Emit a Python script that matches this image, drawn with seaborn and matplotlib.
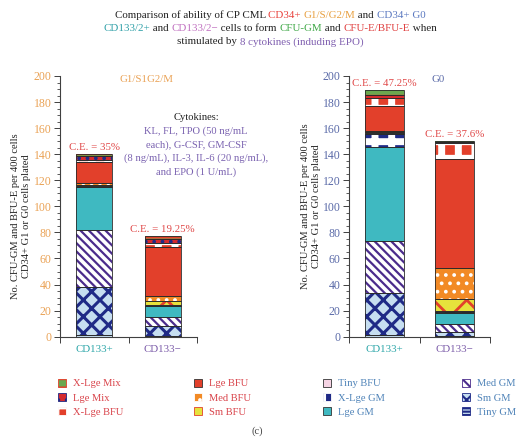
import matplotlib
matplotlib.use("Agg")
import matplotlib.pyplot as plt
import numpy as np
import pandas as pd
import seaborn as sns
from matplotlib.patches import Patch
from matplotlib.ticker import MultipleLocator, FixedLocator

# ---------------- data ----------------
segments = ["Tiny GM", "Sm GM", "Med GM", "Lge GM", "X-Lge GM", "Tiny BFU",
            "Sm BFU", "Med BFU", "Lge BFU", "X-Lge BFU", "Lge Mix", "X-Lge Mix"]
categories = ["CD133+", "CD133\u2212"]
g1_cd133pos = [1.0, 37.5, 43.5, 32.5, 0.5, 0.5, 0.7, 1.5, 16.0, 1.5, 3.8, 1.0]
g1_cd133neg = [0.5, 7.7, 7.1, 8.2, 0.3, 0.3, 3.3, 3.6, 37.8, 3.0, 3.5, 1.7]
g0_cd133pos = [1.5, 31.7, 40.5, 71.6, 10.2, 0.5, 0.8, 1.2, 19.0, 6.0, 2.5, 3.5]
g0_cd133neg = [0.5, 3.0, 6.5, 8.0, 1.2, 0.8, 8.6, 23.9, 83.5, 12.3, 1.2, 0.9]
ce_g1 = ["C.E. = 35%", "C.E. = 19.25%"]
ce_g0 = ["C.E. = 47.25%", "C.E. = 37.6%"]
yticks = [0, 20, 40, 60, 80, 100, 120, 140, 160, 180, 200]
legend_cols = [["X-Lge Mix", "Lge Mix", "X-Lge BFU"],
               ["Lge BFU", "Med BFU", "Sm BFU"],
               ["Tiny BFU", "X-Lge GM", "Lge GM"],
               ["Med GM", "Sm GM", "Tiny GM"]]

# ---------------- styles ----------------
NAVY = "#1f2a86"
RED = "#e2402b"
styles = {
    "Tiny GM":   dict(fc="#c6def0", hc=NAVY, hatch="-----", hlw=1.2),
    "Sm GM":     dict(fc="#c6def0", hc=NAVY, hatch="xx", hlw=2.2),
    "Med GM":    dict(fc="white", hc="#4b2c8c", hatch="\\\\\\\\", hlw=1.6),
    "Lge GM":    dict(fc="#3fb9c1", hc="#3fb9c1", hatch=None, hlw=1.0),
    "X-Lge GM":  dict(fc=NAVY, hc="white", hatch="+", hlw=5.0),
    "Tiny BFU":  dict(fc="#f6d4e4", hc="#f6d4e4", hatch=None, hlw=1.0),
    "Sm BFU":    dict(fc="#e6e23c", hc=RED, hatch="x", hlw=2.0),
    "Med BFU":   dict(fc="#f28a25", hc="white", hatch="..", hlw=1.5),
    "Lge BFU":   dict(fc=RED, hc=RED, hatch=None, hlw=1.0),
    "X-Lge BFU": dict(fc=RED, hc="white", hatch="+", hlw=5.0),
    "Lge Mix":   dict(fc="#d42a2e", hc=NAVY, hatch="..", hlw=1.5),
    "X-Lge Mix": dict(fc="#6aa84f", hc=RED, hatch="--", hlw=1.5),
}

sns.set_theme(style="ticks")
FONT = ["Liberation Serif", "DejaVu Serif"]
plt.rcParams["font.family"] = FONT
plt.rcParams["hatch.linewidth"] = 1.5

W, H = 524, 444
fig = plt.figure(figsize=(W / 100, H / 100), dpi=100)
axL = fig.add_axes([60 / W, 1 - 336.7 / H, 137 / W, 260.7 / H])
axR = fig.add_axes([349 / W, 1 - 336.7 / H, 141 / W, 260.7 / H])

ORANGE = "#eaa255"
SLATE = "#5a6aa8"
CE_RED = "#e04848"
TEAL = "#2aa5a8"
PURP = "#7a5aa8"


def draw_panel(ax, pos, neg, width, ce, tickcolor, ce_pad):
    data = pd.DataFrame({categories[0]: pos, categories[1]: neg}, index=segments)
    cum = data.cumsum()
    for seg in reversed(segments):
        st = styles[seg]
        n0 = len(ax.patches)
        sns.barplot(x=categories, y=cum.loc[seg].values, color=st["fc"],
                    hatch=st["hatch"], edgecolor=st["hc"], linewidth=0,
                    width=width, saturation=1, errorbar=None, ax=ax)
        for p in ax.patches[n0:]:
            p.set_facecolor(st["fc"])
            p.set_edgecolor(st["hc"])
            if hasattr(p, "set_hatch_linewidth"):
                p.set_hatch_linewidth(st["hlw"])
    bottoms = cum - data
    for seg in segments:
        ax.bar(range(len(categories)), data.loc[seg].values,
               bottom=bottoms.loc[seg].values, width=width, fill=False,
               edgecolor="#2a2a2a", linewidth=0.6)
    totals = cum.iloc[-1].values
    for i, t in enumerate(totals):
        ax.text(i, t + ce_pad, ce[i], ha="center", va="bottom", color=CE_RED,
                fontsize=7.8)
    ax.set_ylim(0, 200)
    ax.set_xlim(-0.5, 1.5)
    ax.set_xlabel("")
    ax.set_ylabel("")
    ax.yaxis.set_major_locator(FixedLocator(yticks))
    ax.yaxis.set_minor_locator(MultipleLocator(5))
    ax.set_yticklabels([str(v) for v in yticks])
    ax.tick_params(axis="y", which="major", length=4, width=0.7, colors="#404040",
                   labelcolor=tickcolor, labelsize=8.5, pad=2)
    ax.tick_params(axis="y", which="minor", length=2, width=0.6, colors="#404040")
    ax.xaxis.set_major_locator(FixedLocator([-0.5, 0.5, 1.5]))
    ax.xaxis.set_minor_locator(FixedLocator([0, 1]))
    ax.set_xticklabels(["", "", ""])
    ax.set_xticklabels(categories, minor=True)
    ax.tick_params(axis="x", which="major", length=4, width=0.7, colors="#404040")
    ax.tick_params(axis="x", which="minor", length=0, labelsize=7.8, pad=6)
    lbls = ax.get_xticklabels(minor=True)
    lbls[0].set_color(TEAL)
    lbls[1].set_color(PURP)
    for s in ["left", "bottom"]:
        ax.spines[s].set_color("#404040")
        ax.spines[s].set_linewidth(0.8)
    sns.despine(ax=ax)
    ax.set_facecolor("white")


draw_panel(axL, g1_cd133pos, g1_cd133neg, 0.52, ce_g1, ORANGE, 1.5)
draw_panel(axR, g0_cd133pos, g0_cd133neg, 0.55, ce_g0, SLATE, 1.5)

axL.text(0.63, 0.985, "G1/S1G2/M", transform=axL.transAxes, ha="center",
         va="center", color=ORANGE, fontsize=7.8)
axR.text(0.63, 0.985, "G0", transform=axR.transAxes, ha="center",
         va="center", color=SLATE, fontsize=7.8)

# cytokines block
cx = 196 / W
fig.text(cx, 1 - 117 / H, "Cytokines:", ha="center", va="center",
         color="#222222", fontsize=7.6)
cyto = ["KL, FL, TPO (50 ng/mL", "each), G-CSF, GM-CSF",
        "(8 ng/mL), IL-3, IL-6 (20 ng/mL),", "and EPO (1 U/mL)"]
for i, line in enumerate(cyto):
    fig.text(cx, 1 - (131 + 13.7 * i) / H, line, ha="center", va="center",
             color="#7a62b0", fontsize=7.6)

# y labels
ylab = "No. CFU-GM and BFU-E per 400 cells\nCD34+ G1 or G0 cells plated"
fig.text(21 / W, 1 - 216 / H, ylab, rotation=90, ha="center", va="center",
         color="#222222", fontsize=7.6, linespacing=1.25)
fig.text(311 / W, 1 - 206 / H, ylab, rotation=90, ha="center", va="center",
         color="#222222", fontsize=7.6, linespacing=1.25)

# multi-colored title
renderer = fig.canvas.get_renderer()


def twidth(s, fs):
    t = fig.text(0, 0, s + "|", fontsize=fs)
    w = t.get_window_extent(renderer).width
    t.remove()
    return w


def colored_line(pieces, ypix, fs=7.9, xc=270):
    bar = twidth("", fs)
    full = "".join(s for s, _ in pieces)
    total = twidth(full, fs) - bar
    x0 = xc - total / 2
    prefix = ""
    for s, c in pieces:
        x = x0 + twidth(prefix, fs) - bar
        fig.text(x / W, 1 - ypix / H, s, color=c, fontsize=fs, ha="left",
                 va="center")
        prefix += s


BLK = "#222222"
colored_line([("Comparison of ability of CP CML ", BLK), ("CD34+ ", "#e8403a"),
              ("G1/S/G2/M", "#e8a040"), (" and ", BLK), ("CD34+ G0", "#5a78c0")], 15)
colored_line([("CD133/2+", "#30a0a8"), (" and ", BLK), ("CD133/2\u2212", "#c070c0"),
              (" cells to form ", BLK), ("CFU-GM", "#40a848"), (" and ", BLK),
              ("CFU-E/BFU-E", "#e04040"), (" when", BLK)], 28.5)
colored_line([("stimulated by ", BLK), ("8 cytokines (induding EPO)", "#8060b0")], 42)

# legends
col_x = [58, 194, 323, 462]
red_txt = "#d9434a"
blue_txt = "#4f83b8"
for ci, (cols, x) in enumerate(zip(legend_cols, col_x)):
    handles = []
    for seg in cols:
        st = styles[seg]
        h = Patch(facecolor=st["fc"], edgecolor=st["hc"] if st["hatch"] else "#333333",
                  hatch=st["hatch"], linewidth=0.6)
        handles.append(h)
    leg = fig.legend(handles, cols, loc="upper left",
                     bbox_to_anchor=(x / W, 1 - 378.5 / H), frameon=False,
                     fontsize=7.6, handlelength=0.8, handleheight=0.8,
                     handletextpad=0.6, labelspacing=0.45, borderpad=0,
                     borderaxespad=0,
                     labelcolor=red_txt if ci < 2 else blue_txt)

fig.text(257 / W, 1 - 431 / H, "(c)", ha="center", va="center", color="#444444",
         fontsize=7.6)

fig.savefig("out.png", dpi=100, facecolor="white")
